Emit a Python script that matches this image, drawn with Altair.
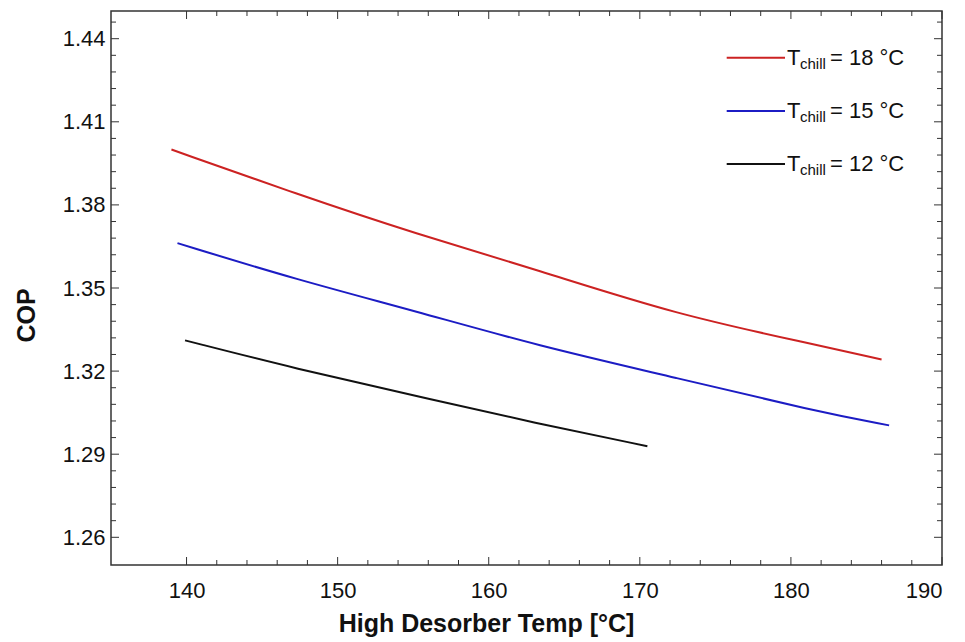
import altair as alt
import pandas as pd

# ---- data ----
series_names = ["18", "15", "12"]
series_colors = ["#cc2222", "#1c1cc4", "#111111"]

temp_18 = [139.0, 147.3, 155.2, 163.2, 172.4, 181.6, 186.0]
cop_18 = [1.400, 1.3839, 1.3695, 1.3566, 1.3404, 1.3296, 1.3242]

temp_15 = [139.4, 147.3, 155.2, 163.2, 172.4, 181.6, 186.5]
cop_15 = [1.3662, 1.3530, 1.3416, 1.3292, 1.3176, 1.3055, 1.3004]

temp_12 = [139.9, 147.3, 155.2, 163.2, 170.5]
cop_12 = [1.3311, 1.3208, 1.3110, 1.3011, 1.2929]

x_major = [140, 150, 160, 170, 180, 190]
x_minor = [142, 144, 146, 148, 152, 154, 156, 158, 162, 164, 166, 168,
           172, 174, 176, 178, 182, 184, 186, 188]
y_major = [1.26, 1.29, 1.32, 1.35, 1.38, 1.41, 1.44]
y_minor = [1.266, 1.272, 1.278, 1.284, 1.296, 1.302, 1.308, 1.314,
           1.326, 1.332, 1.338, 1.344, 1.356, 1.362, 1.368, 1.374,
           1.386, 1.392, 1.398, 1.404, 1.416, 1.422, 1.428, 1.434, 1.446]

# ---- build table ----
rows = []
for name, xs, ys in [("18", temp_18, cop_18), ("15", temp_15, cop_15), ("12", temp_12, cop_12)]:
    for t, c in zip(xs, ys):
        rows.append({"series": name, "temp": t, "cop": c})
df = pd.DataFrame(rows)

W, H = 831, 554
FONT = "Liberation Sans"
TICK_COLOR = "#333333"

xscale = alt.Scale(domain=[135, 190], nice=False, zero=False)
yscale = alt.Scale(domain=[1.25, 1.45], nice=False, zero=False)

lines = alt.Chart(df).mark_line(strokeWidth=2, interpolate="basis").encode(
    x=alt.X("temp:Q", scale=xscale,
            axis=alt.Axis(values=x_major, ticks=False, domain=False, grid=False,
                          labelFont=FONT, labelFontSize=22, labelColor="#111111",
                          labelPadding=15, format="d",
                          title="High Desorber Temp [°C]", titleFont=FONT,
                          titleFontSize=25, titleFontWeight="bold", titleColor="#111111",
                          titleX=375, titleY=66, titleAlign="center",
                          titleBaseline="alphabetic")),
    y=alt.Y("cop:Q", scale=yscale,
            axis=alt.Axis(values=y_major, ticks=False, domain=False, grid=False,
                          labelFont=FONT, labelFontSize=22, labelColor="#111111",
                          labelPadding=6, format=".2f",
                          title="COP", titleFont=FONT, titleFontSize=25,
                          titleFontWeight="bold", titleColor="#111111",
                          titleX=-77, titleY=304, titleAngle=-90,
                          titleAlign="center", titleBaseline="alphabetic")),
    color=alt.Color("series:N", scale=alt.Scale(domain=series_names, range=series_colors),
                    legend=None),
    detail="series:N",
)

layers = [lines]

# tick marks (inward, on all four sides); same field names so axes merge
def yticks(vals, length):
    d = pd.DataFrame({"cop": vals})
    left = alt.Chart(d).mark_rule(color=TICK_COLOR, strokeWidth=1).encode(
        y=alt.Y("cop:Q", scale=yscale), x=alt.value(0), x2=alt.value(length))
    right = alt.Chart(d).mark_rule(color=TICK_COLOR, strokeWidth=1).encode(
        y=alt.Y("cop:Q", scale=yscale), x=alt.value(W - length), x2=alt.value(W))
    return [left, right]

def xticks(vals, length):
    d = pd.DataFrame({"temp": vals})
    bottom = alt.Chart(d).mark_rule(color=TICK_COLOR, strokeWidth=1).encode(
        x=alt.X("temp:Q", scale=xscale), y=alt.value(H - length), y2=alt.value(H))
    top = alt.Chart(d).mark_rule(color=TICK_COLOR, strokeWidth=1).encode(
        x=alt.X("temp:Q", scale=xscale), y=alt.value(0), y2=alt.value(length))
    return [bottom, top]

layers += yticks(y_major, 8) + yticks(y_minor, 5) + xticks(x_major, 8) + xticks(x_minor, 5)

# custom legend with subscript text
for i, (name, col) in enumerate(zip(series_names, series_colors)):
    y0 = 46.7 + i * 53.2
    d = pd.DataFrame({"series": [name]})
    layers.append(alt.Chart(d).mark_rule(color=col, strokeWidth=2).encode(
        x=alt.value(615.7), x2=alt.value(674), y=alt.value(y0)))
    layers.append(alt.Chart(d).mark_text(align="left", baseline="alphabetic", font=FONT,
                                         fontSize=22, color="#111111").encode(
        x=alt.value(676), y=alt.value(y0 + 7.3), text=alt.value("T")))
    layers.append(alt.Chart(d).mark_text(align="left", baseline="alphabetic", font=FONT,
                                         fontSize=15, color="#111111").encode(
        x=alt.value(689), y=alt.value(y0 + 11.3), text=alt.value("chill")))
    layers.append(alt.Chart(d).mark_text(align="left", baseline="alphabetic", font=FONT,
                                         fontSize=22, color="#111111").encode(
        x=alt.value(719), y=alt.value(y0 + 7.3), text=alt.value(f"= {name} °C")))

chart = alt.layer(*layers).properties(
    width=W, height=H,
    autosize=alt.AutoSizeParams(type="none"),
    padding={"left": 103, "top": 3, "right": 15, "bottom": 76},
    background="white",
).configure_view(stroke="#333333", strokeWidth=1.5)

chart.save("out.html", embed_options={"renderer": "svg", "actions": False})
